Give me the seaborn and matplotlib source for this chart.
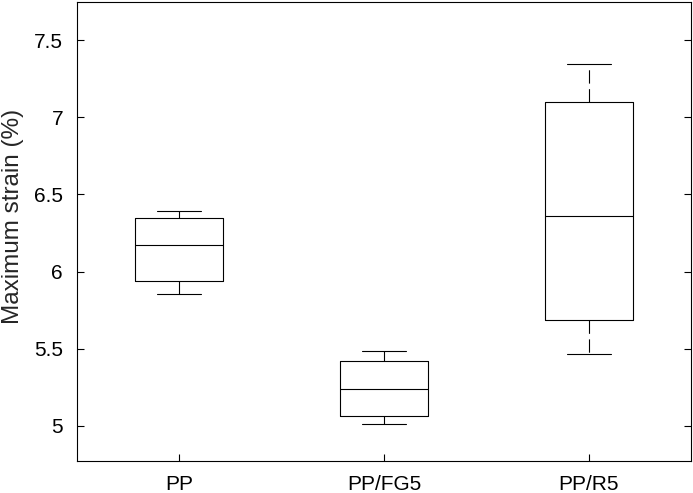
import pandas as pd
import numpy as np
import matplotlib
matplotlib.use("Agg")
import matplotlib.pyplot as plt
import seaborn as sns

# five-number summaries: min, Q1, median, Q3, max
groups = ["PP", "PP/FG5", "PP/R5"]
pp = [5.857, 5.94, 6.175, 6.344, 6.39]
pp_fg5 = [5.013, 5.065, 5.24, 5.42, 5.487]
pp_r5 = [5.468, 5.688, 6.357, 7.097, 7.344]

df = pd.DataFrame({
    "group": np.repeat(groups, 5),
    "strain": pp + pp_fg5 + pp_r5,
})

sns.set_style("white")
plt.rcParams["font.family"] = ["Liberation Sans", "DejaVu Sans"]

fig = plt.figure(figsize=(6.93, 4.93), dpi=100)
ax = fig.add_axes([0.111, 0.065, 0.886, 0.931])

lw = 0.8
sns.boxplot(data=df, x="group", y="strain", ax=ax, fill=False, color="black",
            width=0.43, linewidth=lw, whis=1.5, showfliers=False,
            boxprops=dict(color="black"),
            medianprops=dict(color="black"),
            whiskerprops=dict(color="black", linestyle=(0, (12, 5))),
            capprops=dict(color="black"))

ax.set_xlim(-0.5, 2.5)
ax.set_ylim(4.773, 7.747)
ax.set_yticks([5, 5.5, 6, 6.5, 7, 7.5])
ax.set_yticklabels(["5", "5.5", "6", "6.5", "7", "7.5"])
ax.set_xlabel("")
ax.set_ylabel("Maximum strain (%)", fontsize=17.5)
ax.yaxis.set_label_coords(-0.086, 0.533)

ax.tick_params(axis="both", direction="in", length=5, width=0.8,
               labelsize=15, colors="black", right=True, left=True, bottom=True)
ax.tick_params(axis="y", pad=10)
ax.tick_params(axis="x", pad=10)
for s in ax.spines.values():
    s.set_visible(True)
    s.set_color("black")
    s.set_linewidth(0.8)

fig.savefig("out.png", dpi=100)
